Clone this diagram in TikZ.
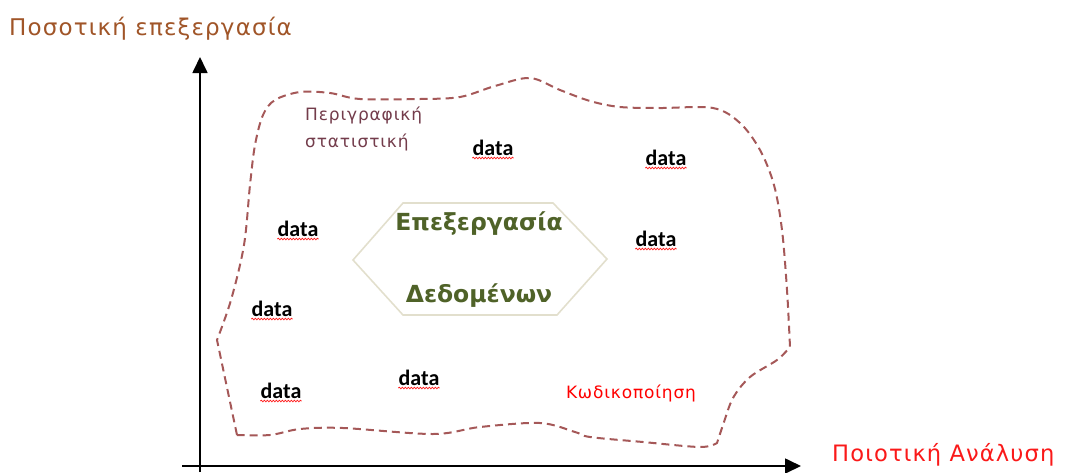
\documentclass[tikz,border=0pt]{standalone}
\usepackage{fontspec}
\setmainfont{DejaVu Sans}
\newfontfamily\spacedfont[LetterSpace=5]{DejaVu Sans}
\newfontfamily\calib{Carlito}
\usetikzlibrary{arrows.meta,decorations.pathmorphing}
\definecolor{axislabel}{RGB}{160,85,40}
\definecolor{qualred}{RGB}{250,25,25}
\definecolor{bordercol}{RGB}{165,88,88}
\definecolor{hexedge}{RGB}{226,223,205}
\definecolor{hexgreen}{RGB}{79,98,40}
\definecolor{descr}{RGB}{115,60,75}
\begin{document}
\begin{tikzpicture}[x=1pt,y=-1pt,
  axisline/.style={line width=1.7pt,-{Triangle[length=16pt,width=15pt]}},
  boundary/.style={bordercol,line width=2pt,dash pattern=on 8pt off 5pt},
  hexline/.style={hexedge,line width=1.6pt,line join=miter},
  hextext/.style={font=\bfseries\fontsize{23.5}{27}\selectfont,text=hexgreen,inner sep=0pt},
  datalabel/.style={font=\calib\bfseries\fontsize{22}{26}\selectfont,inner sep=0pt,anchor=base},
  squiggle/.style={red!90,line width=0.8pt,decorate,decoration={snake,segment length=3pt,amplitude=0.8pt}},
  thinlabel/.style={inner sep=0pt}
]
\useasboundingbox (0,0) rectangle (1075,472);

% axes
\coordinate (ybot) at (200,472);
\coordinate (ytop) at (200,57);
\coordinate (xleft) at (182,466);
\coordinate (xright) at (801,466);
\draw[axisline] (ybot) -- (ytop);
\draw[axisline] (xleft) -- (xright);

\node[thinlabel,anchor=base west,text=axislabel,font=\spacedfont\fontsize{23}{27}\selectfont] (ylab) at (9,35) {Ποσοτική επεξεργασία};
\node[thinlabel,anchor=base west,text=qualred,font=\spacedfont\fontsize{22.6}{27}\selectfont] (xlab) at (832,461) {Ποιοτική Ανάλυση};

% dashed region
\draw[boundary]
  (237,435) -- (217,340)
  -- plot[smooth,tension=0.55] coordinates {(217,340) (231,300) (244,245) (250,185) (255,145) (263,115) (275,100) (300,92) (330,93) (360,99) (420,99) (460,97) (495,86) (530,78) (560,90) (590,101) (620,107) (660,108) (713,108) (740,123) (760,150) (774,185) (782,230) (787,290) (790,347)}
  -- plot[smooth,tension=0.55] coordinates {(790,347) (777,360) (750,377) (733,398) (723,425) (717,443)}
  -- plot[smooth,tension=0.55] coordinates {(717,443) (700,447) (643,442) (590,437) (575,432) (540,423) (480,427) (433,434) (343,428) (300,429) (270,435) (237,435)};

% central hexagon
\coordinate (hl) at (353,260);
\coordinate (htl) at (403,203);
\coordinate (htr) at (553,203);
\coordinate (hr) at (607,259);
\coordinate (hbr) at (557,315);
\coordinate (hbl) at (403,315);
\draw[hexline] (hl) -- (htl) -- (htr) -- (hr) -- (hbr) -- (hbl) -- cycle;
\node[hextext] (hex1) at (479,224) {Επεξεργασία};
\node[hextext] (hex2) at (479,296) {Δεδομένων};

% labels inside the region
\node[thinlabel,anchor=base west,text=descr,font=\spacedfont\fontsize{17}{27}\selectfont,align=left] (descr) at (305,147) {Περιγραφική\\στατιστική};
\node[thinlabel,anchor=base,text=red,font=\spacedfont\fontsize{17}{20}\selectfont] (code) at (631,398) {Κωδικοποίηση};

% data items
\foreach \n/\px/\py in {d1/493/155, d2/666/165, d3/298/236, d4/656/246, d5/272/316, d6/281/398, d7/419/385}{
  \node[datalabel] (\n) at (\px,\py) {data};
  \draw[squiggle] ([yshift=-3pt]\n.base west) -- ([yshift=-3pt]\n.base east);
}
\end{tikzpicture}
\end{document}
